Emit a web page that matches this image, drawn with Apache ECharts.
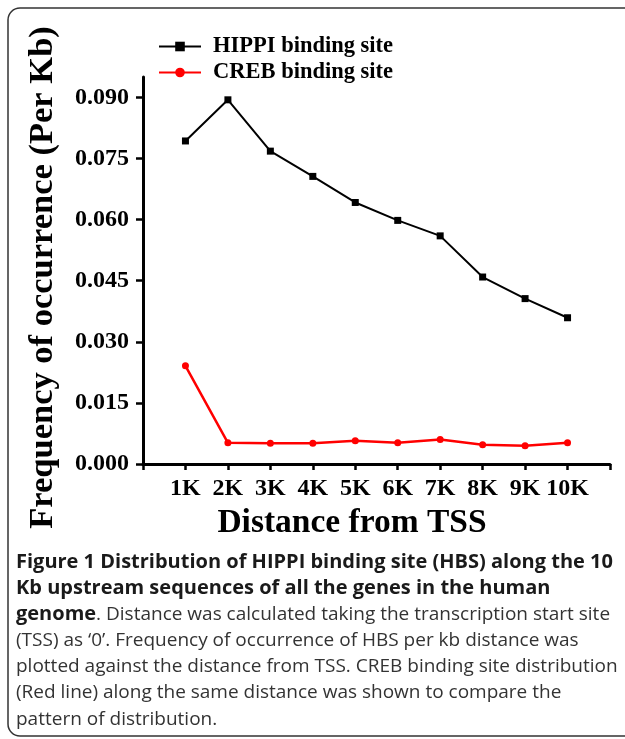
<!DOCTYPE html>
<html>
<head>
<meta charset="utf-8">
<script src="https://cdn.jsdelivr.net/npm/echarts@6/dist/echarts.min.js"></script>
<style>
html, body { margin: 0; padding: 0; background: #fff; }
#main { width: 625px; height: 739px; }
</style>
</head>
<body>
<div id="main"></div>
<script>
// distance from TSS (kb)
var distances = [1, 2, 3, 4, 5, 6, 7, 8, 9, 10];
// frequency per kb
var hippiValues = [0.0793, 0.0894, 0.0768, 0.0706, 0.0642, 0.0598, 0.0560, 0.0459, 0.0406, 0.0359];
var crebValues = [0.0241, 0.0052, 0.0051, 0.0051, 0.0057, 0.0052, 0.0060, 0.0047, 0.0045, 0.0052];
var xTicks = [0, 1, 2, 3, 4, 5, 6, 7, 8, 9, 10, 11];
var yTicks = [0, 0.015, 0.030, 0.045, 0.060, 0.075, 0.090];

var captionLines = [
    '{b|Figure 1 Distribution of HIPPI binding site (HBS) along the 10}',
    '{b|Kb upstream sequences of all the genes in the human}',
    '{b|genome}{n|. Distance was calculated taking the transcription start site}',
    '{n|(TSS) as \u20180\u2019. Frequency of occurrence of HBS per kb distance was}',
    '{n|plotted against the distance from TSS. CREB binding site distribution}',
    '{n|(Red line) along the same distance was shown to compare the}',
    '{n|pattern of distribution.}'
];

var serif = 'Liberation Serif';

function pairs(xs, ys) {
    var out = [];
    for (var i = 0; i < xs.length; i++) {
        out.push([xs[i], ys[i]]);
    }
    return out;
}

var chart = echarts.init(document.getElementById('main'));
var option = {
    backgroundColor: '#fff',
    animation: false,
    grid: { left: 143, right: 15, top: 77, bottom: 275 },
    legend: {
        orient: 'vertical',
        left: 153,
        top: 30,
        itemWidth: 42,
        itemHeight: 12,
        itemGap: 3,
        textStyle: {
            fontFamily: serif, fontWeight: 'bold', fontSize: 22.5, color: '#000',
            padding: [0, 0, 0, 7]
        },
        data: ['HIPPI binding site', 'CREB binding site']
    },
    xAxis: {
        type: 'value',
        min: 0,
        max: 11,
        interval: 1,
        splitLine: { show: false },
        axisLine: { show: true, lineStyle: { color: '#000', width: 3 } },
        axisTick: { show: true, length: 6, lineStyle: { color: '#000', width: 2.5 }, customValues: xTicks },
        axisLabel: {
            customValues: distances,
            formatter: function (v) { return v + 'K'; },
            fontFamily: serif, fontWeight: 'bold', fontSize: 24, color: '#000', margin: 13
        },
        name: 'Distance from TSS',
        nameLocation: 'middle',
        nameGap: 39,
        nameTextStyle: {
            fontFamily: serif, fontWeight: 'bold', fontSize: 33.5, color: '#000',
            padding: [0, 49, 0, 0]
        }
    },
    yAxis: {
        type: 'value',
        min: 0,
        max: 0.095,
        splitLine: { show: false },
        axisLine: { show: true, lineStyle: { color: '#000', width: 3 } },
        axisTick: { show: true, length: 7, lineStyle: { color: '#000', width: 2.5 }, customValues: yTicks },
        axisLabel: {
            customValues: yTicks,
            formatter: function (v) { return v.toFixed(3); },
            fontFamily: serif, fontWeight: 'bold', fontSize: 24, color: '#000', margin: 14
        },
        name: 'Frequency of occurrence (Per Kb)',
        nameLocation: 'middle',
        nameGap: 82,
        nameRotate: 90,
        nameTextStyle: {
            fontFamily: serif, fontWeight: 'bold', fontSize: 34.5, color: '#000',
            padding: [0, 14, 0, 0]
        }
    },
    series: [
        {
            name: 'HIPPI binding site',
            type: 'line',
            data: pairs(distances, hippiValues),
            symbol: 'rect',
            symbolSize: 7,
            lineStyle: { color: '#000', width: 2 },
            itemStyle: { color: '#000' }
        },
        {
            name: 'CREB binding site',
            type: 'line',
            data: pairs(distances, crebValues),
            symbol: 'circle',
            symbolSize: 7,
            lineStyle: { color: '#ff0000', width: 2.5 },
            itemStyle: { color: '#ff0000' }
        }
    ],
    graphic: [
        {
            type: 'rect',
            shape: { x: 8, y: 8, width: 660, height: 728, r: 12 },
            style: { fill: 'none', stroke: '#333', lineWidth: 1.5 },
            silent: true
        },
        {
            type: 'text',
            left: 16,
            top: 552,
            style: {
                text: captionLines.join('\n'),
                rich: {
                    b: { fontFamily: 'Open Sans', fontWeight: 'bold', fontSize: 20, lineHeight: 26.2, fill: '#1a1a1a' },
                    n: { fontFamily: 'Open Sans', fontSize: 19, lineHeight: 26.2, fill: '#333' }
                }
            }
        }
    ]
};
chart.setOption(option);
</script>
</body>
</html>
